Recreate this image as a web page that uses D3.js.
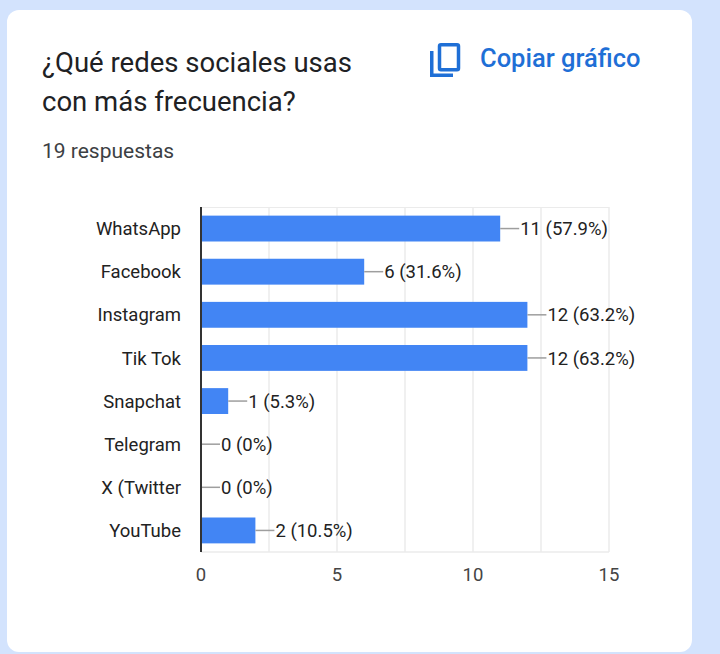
<!DOCTYPE html>
<html>
<head>
<meta charset="utf-8">
<script src="https://cdn.jsdelivr.net/npm/d3@7"></script>
<style>
  html, body { margin: 0; padding: 0; background: #d3e3fd; }
  body { width: 720px; height: 654px; overflow: hidden; font-family: Roboto, "Noto Sans", sans-serif; }
</style>
</head>
<body>
<div id="chart"></div>
<script>
// survey data
var categories = ["WhatsApp", "Facebook", "Instagram", "Tik Tok", "Snapchat", "Telegram", "X (Twitter", "YouTube"];
var counts = [11, 6, 12, 12, 1, 0, 0, 2];
var percents = ["57.9%", "31.6%", "63.2%", "63.2%", "5.3%", "0%", "0%", "10.5%"];
var xTicks = [0, 5, 10, 15];
var gridTicks = [2.5, 5, 7.5, 10, 12.5, 15];

var dataset = categories.map(function(c, i) {
    return {name: c, value: counts[i], pct: percents[i]};
});

var svg = d3.select("#chart").append("svg")
    .attr("width", 720)
    .attr("height", 654);

// card
svg.append("rect")
    .attr("x", 7).attr("y", 10)
    .attr("width", 685).attr("height", 642)
    .attr("rx", 12)
    .attr("fill", "#ffffff");

// title
var title = svg.append("text")
    .attr("x", 42)
    .attr("font-size", 27.5)
    .attr("fill", "#202124");
title.append("tspan").attr("x", 42).attr("y", 72).text("¿Qué redes sociales usas");
title.append("tspan").attr("x", 42).attr("y", 111).text("con más frecuencia?");

svg.append("text")
    .attr("x", 42).attr("y", 158)
    .attr("font-size", 21)
    .attr("fill", "#3c4043")
    .text("19 respuestas");

// copy button
var blue = "#1f6fd6";
var icon = svg.append("g").attr("transform", "translate(430,43)");
icon.append("rect")
    .attr("x", 9.5).attr("y", 1.75)
    .attr("width", 19).attr("height", 25)
    .attr("rx", 1.5)
    .attr("fill", "none").attr("stroke", blue).attr("stroke-width", 3.5);
icon.append("path")
    .attr("d", "M1.75,8 V32.25 H23")
    .attr("fill", "none").attr("stroke", blue).attr("stroke-width", 3.5);
svg.append("text")
    .attr("x", 480).attr("y", 67)
    .attr("font-size", 25.5)
    .attr("font-weight", 500)
    .attr("fill", blue)
    .text("Copiar gráfico");

// plot area
var margin = {top: 207, left: 201};
var width = 408, height = 345;

var g = svg.append("g")
    .attr("transform", "translate(" + margin.left + "," + margin.top + ")");

var xScale = d3.scaleLinear()
    .domain([0, 15])
    .range([0, width]);

var yScale = d3.scaleBand()
    .domain(categories)
    .range([0, height])
    .paddingInner(0.4)
    .paddingOuter(0.2);

// grid
g.selectAll("line.grid")
    .data(gridTicks)
    .enter()
    .append("line")
    .attr("class", "grid")
    .attr("x1", function(d) { return xScale(d); })
    .attr("x2", function(d) { return xScale(d); })
    .attr("y1", 0).attr("y2", height)
    .attr("stroke", "#ebebeb").attr("stroke-width", 1.5);

g.append("line")
    .attr("x1", 0).attr("x2", width)
    .attr("y1", 0.5).attr("y2", 0.5)
    .attr("stroke", "#ebebeb");
g.append("line")
    .attr("x1", 0).attr("x2", width)
    .attr("y1", height).attr("y2", height)
    .attr("stroke", "#ebebeb").attr("stroke-width", 1.5);

// bars
g.selectAll("rect.bar")
    .data(dataset)
    .enter()
    .append("rect")
    .attr("class", "bar")
    .attr("x", 0)
    .attr("y", function(d) { return yScale(d.name); })
    .attr("width", function(d) { return xScale(d.value); })
    .attr("height", yScale.bandwidth())
    .attr("fill", "#4285f4");

// leader lines + value labels
g.selectAll("line.leader")
    .data(dataset)
    .enter()
    .append("line")
    .attr("class", "leader")
    .attr("x1", function(d) { return xScale(d.value); })
    .attr("x2", function(d) { return xScale(d.value) + 19; })
    .attr("y1", function(d) { return yScale(d.name) + yScale.bandwidth() / 2; })
    .attr("y2", function(d) { return yScale(d.name) + yScale.bandwidth() / 2; })
    .attr("stroke", "#9e9e9e").attr("stroke-width", 1.5);

g.selectAll("text.value")
    .data(dataset)
    .enter()
    .append("text")
    .attr("class", "value")
    .attr("x", function(d) { return xScale(d.value) + 20; })
    .attr("y", function(d) { return yScale(d.name) + yScale.bandwidth() / 2; })
    .attr("dy", "0.36em")
    .attr("font-size", 18.5)
    .attr("fill", "#222")
    .text(function(d) { return d.value + " (" + d.pct + ")"; });

// category labels
g.selectAll("text.cat")
    .data(dataset)
    .enter()
    .append("text")
    .attr("class", "cat")
    .attr("x", -20)
    .attr("y", function(d) { return yScale(d.name) + yScale.bandwidth() / 2; })
    .attr("dy", "0.36em")
    .attr("text-anchor", "end")
    .attr("font-size", 18.5)
    .attr("fill", "#222")
    .text(function(d) { return d.name; });

// axis line
g.append("line")
    .attr("x1", 0).attr("x2", 0)
    .attr("y1", 0).attr("y2", height)
    .attr("stroke", "#333").attr("stroke-width", 2);

// x tick labels
g.selectAll("text.tick")
    .data(xTicks)
    .enter()
    .append("text")
    .attr("class", "tick")
    .attr("x", function(d) { return xScale(d); })
    .attr("y", height + 29)
    .attr("text-anchor", "middle")
    .attr("font-size", 18.5)
    .attr("fill", "#444")
    .text(function(d) { return d; });
</script>
</body>
</html>
